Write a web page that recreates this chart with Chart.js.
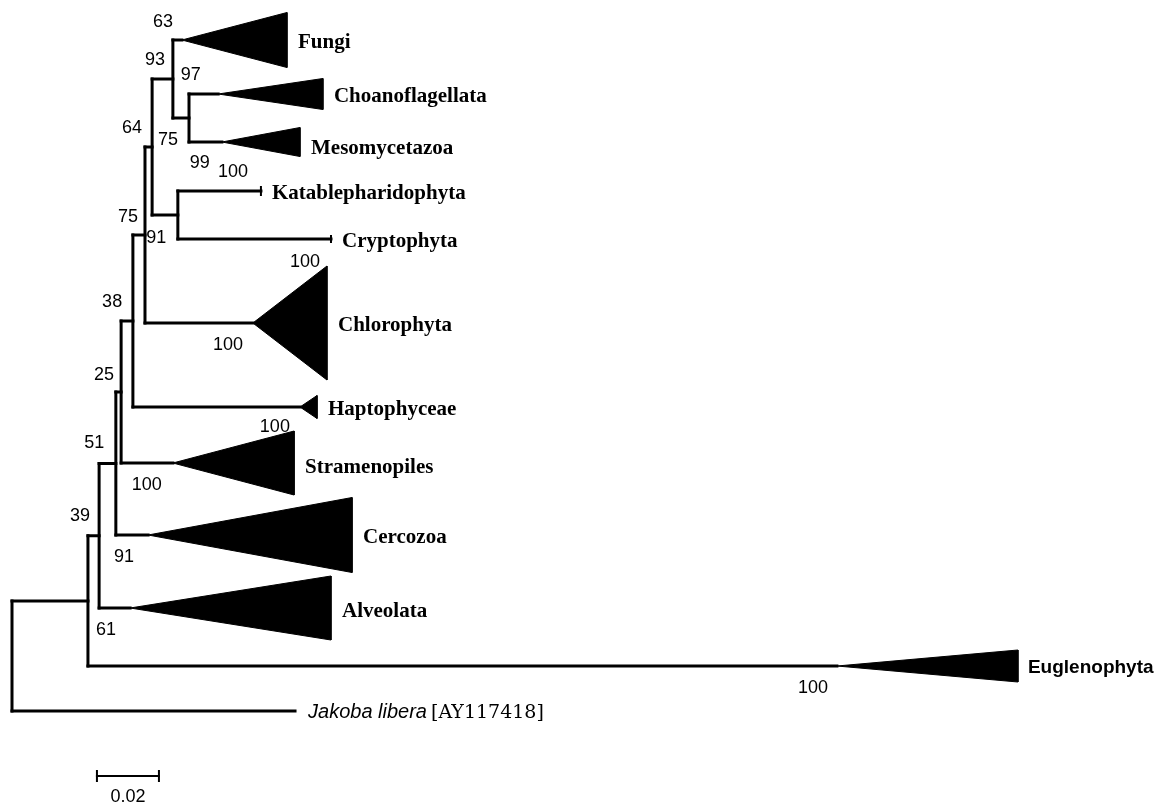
<!DOCTYPE html>
<html>
<head>
<meta charset="utf-8">
<script src="https://cdn.jsdelivr.net/npm/chart.js@4/dist/chart.umd.min.js"></script>
<style>
    html, body { margin: 0; padding: 0; background: #fff; }
    #tree { display: block; }
</style>
</head>
<body>
<canvas id="tree" width="1167" height="807"></canvas>
<script>
// tree topology: internal nodes, distance from root (subst./site)
const nodeNames  = ['root', 'nEug', 'nAlv', 'nCer', 'nStr', 'nHap', 'nChl', 'nOpi', 'nFun', 'nCho', 'nKat'];
const nodeParent = [null,   'root', 'nEug', 'nAlv', 'nCer', 'nStr', 'nHap', 'nChl', 'nOpi', 'nFun', 'nOpi'];
const nodeDist   = [0,      0.0245, 0.0281, 0.0335, 0.0352, 0.0390, 0.0429, 0.0452, 0.0519, 0.0571, 0.0535];

// collapsed clades / terminal taxa
const cladeNames  = ['Fungi', 'Choanoflagellata', 'Mesomycetazoa', 'Katablepharidophyta', 'Cryptophyta',
                     'Chlorophyta', 'Haptophyceae', 'Stramenopiles', 'Cercozoa', 'Alveolata', 'Euglenophyta', 'Jakoba'];
const cladeParent = ['nFun', 'nCho', 'nCho', 'nKat', 'nKat', 'nChl', 'nHap', 'nStr', 'nCer', 'nAlv', 'nEug', 'root'];
const cladeStart  = [0.0548, 0.0665, 0.0677, 0.0803, 0.1029, 0.0777, 0.0929, 0.0519, 0.0439, 0.0381, 0.2661, 0.0913];
const cladeEnd    = [0.0887, 0.1003, 0.0929, 0.0803, 0.1029, 0.1016, 0.0984, 0.0910, 0.1097, 0.1029, 0.3245, 0.0913];
const cladeRow    = [40, 94, 142, 191, 239, 323, 407, 463, 535, 608, 666, 711];
const cladeSpread = [55, 31, 29, 8, 6, 114, 23, 64, 75, 64, 32, 0];

// bootstrap support values
const bootValues = ['63', '93', '97', '64', '75', '99', '100', '75', '91', '100', '38', '100',
                    '25', '100', '51', '100', '39', '91', '61', '100'];
const bootX = [0.0487, 0.0461, 0.0577, 0.0387, 0.0503, 0.0606, 0.0713, 0.0374, 0.0465, 0.0945, 0.0323, 0.0697,
               0.0297, 0.0848, 0.0265, 0.0435, 0.0219, 0.0361, 0.0303, 0.2584];
const bootRow = [22, 60, 75, 128, 140, 163, 172, 217, 238, 262, 302, 345,
                 375, 427, 443, 485, 516, 557, 630, 688];

const scaleBar = { from: 0.0274, length: 0.02, row: 776, label: '0.02' };

const INK = '#000';
const X_MIN = -12 / 3100;
const X_MAX = 1155 / 3100;
// small vertical nudges of clade names (px)
const labelNudge = { Mesomycetazoa: 4, Stramenopiles: 2, Alveolata: 1 };

// y of an internal node = middle of its outermost children
function childRows(name) {
    const rows = [];
    nodeNames.forEach((n, i) => { if (nodeParent[i] === name) rows.push(nodeRow(n)); });
    cladeNames.forEach((n, i) => { if (cladeParent[i] === name) rows.push(cladeRow[i]); });
    return rows;
}

function nodeRow(name) {
    const rows = childRows(name);
    return (Math.min(...rows) + Math.max(...rows)) / 2;
}

const distOf = (name) => nodeDist[nodeNames.indexOf(name)];

function lineSet(points, width = 3) {
    return {
        data: points,
        showLine: true,
        borderColor: INK,
        borderWidth: width,
        borderCapStyle: 'square',
        pointRadius: 0,
        fill: false
    };
}

function buildDatasets() {
    const sets = [];

    nodeNames.forEach((name, i) => {
        const x = nodeDist[i];
        const rows = childRows(name);
        sets.push(lineSet([{ x, y: Math.min(...rows) }, { x, y: Math.max(...rows) }]));
        if (nodeParent[i]) {
            const y = nodeRow(name);
            sets.push(lineSet([{ x: distOf(nodeParent[i]), y }, { x, y }]));
        }
    });

    cladeNames.forEach((name, i) => {
        const y = cladeRow[i];
        const x0 = cladeStart[i];
        const x1 = cladeEnd[i];
        const h = cladeSpread[i] / 2;
        sets.push(lineSet([{ x: distOf(cladeParent[i]), y }, { x: x0, y }]));
        if (x1 > x0) {
            sets.push({
                data: [{ x: x0, y }, { x: x1, y: y - h }, { x: x1, y: y + h }, { x: x0, y }],
                showLine: true,
                borderColor: INK,
                borderWidth: 1,
                backgroundColor: INK,
                pointRadius: 0,
                fill: 'shape'
            });
        } else if (h > 0) {
            sets.push(lineSet([{ x: x1, y: y - h }, { x: x1, y: y + h }], 2));
        }
    });

    const sb = scaleBar;
    sets.push(lineSet([{ x: sb.from, y: sb.row }, { x: sb.from + sb.length, y: sb.row }], 2));
    sets.push(lineSet([{ x: sb.from, y: sb.row - 5 }, { x: sb.from, y: sb.row + 5 }], 2));
    sets.push(lineSet([{ x: sb.from + sb.length, y: sb.row - 5 }, { x: sb.from + sb.length, y: sb.row + 5 }], 2));

    return sets;
}

const treeLabels = {
    id: 'treeLabels',
    afterDatasetsDraw(chart) {
        const ctx = chart.ctx;
        const sx = chart.scales.x;
        const sy = chart.scales.y;
        ctx.save();
        ctx.fillStyle = INK;

        ctx.font = '18px "Liberation Sans", Arial, sans-serif';
        ctx.textAlign = 'center';
        ctx.textBaseline = 'middle';
        bootValues.forEach((v, i) => {
            ctx.fillText(v, sx.getPixelForValue(bootX[i]), sy.getPixelForValue(bootRow[i]));
        });

        ctx.fillText(scaleBar.label, sx.getPixelForValue(scaleBar.from + scaleBar.length / 2),
            sy.getPixelForValue(scaleBar.row + 21));

        ctx.textAlign = 'left';
        ctx.textBaseline = 'alphabetic';
        cladeNames.forEach((name, i) => {
            const px = sx.getPixelForValue(cladeEnd[i]) + 11;
            const py = sy.getPixelForValue(cladeRow[i]) + 7 + (labelNudge[name] || 0);
            if (name === 'Jakoba') {
                ctx.font = 'italic 20px "Liberation Sans", Arial, sans-serif';
                const part = 'Jakoba libera';
                ctx.fillText(part, px + 2, py);
                const w = ctx.measureText(part).width;
                ctx.font = '19px "DejaVu Serif", serif';
                ctx.fillText('[AY117418]', px + w + 6, py);
            } else if (name === 'Euglenophyta') {
                ctx.font = 'bold 19px "Liberation Sans", Arial, sans-serif';
                ctx.fillText(name, px - 1, py);
            } else {
                ctx.font = 'bold 21px "Liberation Serif", "Times New Roman", serif';
                ctx.fillText(name, px, py + 1);
            }
        });
        ctx.restore();
    }
};

new Chart(document.getElementById('tree').getContext('2d'), {
    type: 'scatter',
    data: { datasets: buildDatasets() },
    options: {
        responsive: false,
        animation: false,
        layout: { padding: 0 },
        plugins: {
            legend: { display: false },
            tooltip: { enabled: false }
        },
        scales: {
            x: { type: 'linear', display: false, min: X_MIN, max: X_MAX },
            y: { type: 'linear', display: false, reverse: true, min: 0, max: 807 }
        }
    },
    plugins: [treeLabels]
});
</script>
</body>
</html>
